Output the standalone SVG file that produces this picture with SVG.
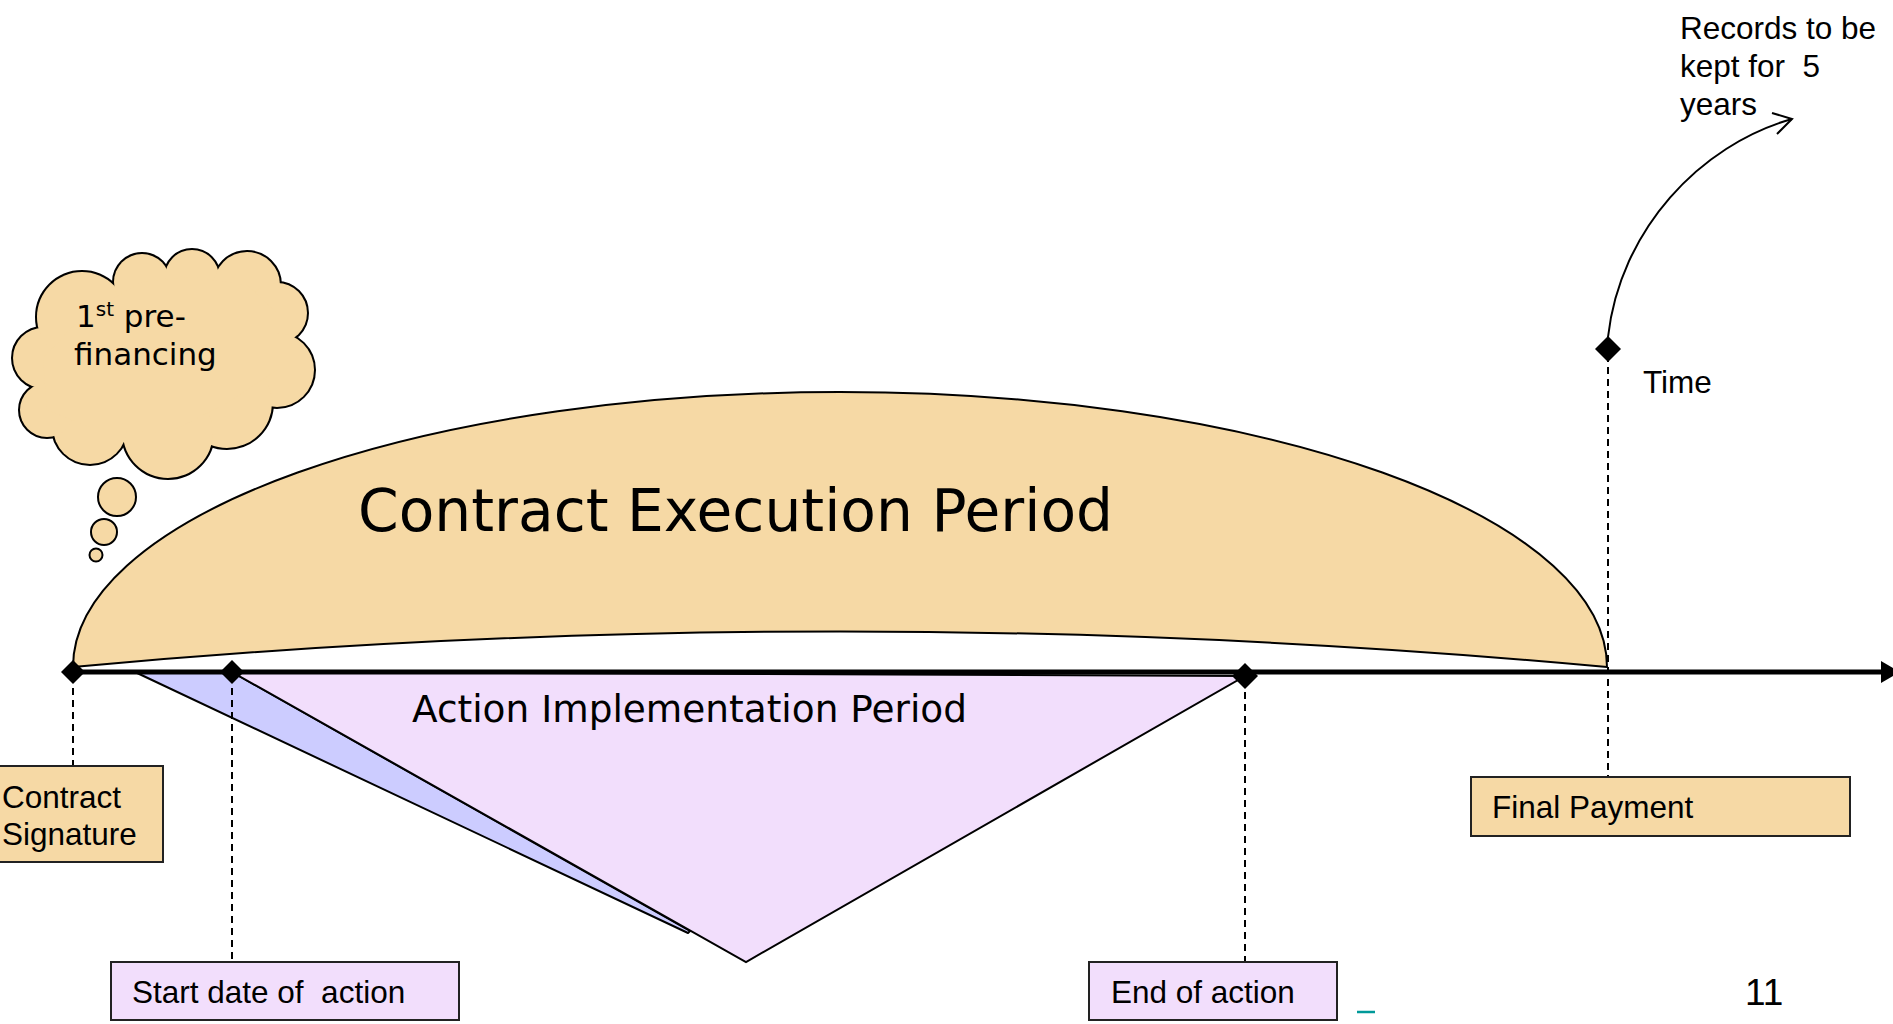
<svg xmlns="http://www.w3.org/2000/svg" xmlns:xlink="http://www.w3.org/1999/xlink" width="1893" height="1024" viewBox="0 0 1893 1024">
<style>
.tan{fill:#F6D9A5}
.lav{fill:#F2DEFC}
.box{stroke:#222;stroke-width:2}
.dash{stroke:#000;stroke-width:2;stroke-dasharray:7 5;fill:none}
.dia{fill:#000}
.ar{font-family:"Liberation Sans",Arial,sans-serif;font-size:31.5px;fill:#000}
.vd{font-family:"DejaVu Sans",Verdana,sans-serif;fill:#000}
</style>
<defs>
<g id="lobes">
<circle cx="43" cy="358" r="30"/>
<circle cx="82" cy="317" r="45"/>
<circle cx="142" cy="282" r="28"/>
<circle cx="192" cy="277" r="27"/>
<circle cx="247" cy="285" r="33"/>
<circle cx="277" cy="313" r="30"/>
<circle cx="277" cy="370" r="37"/>
<circle cx="227" cy="403" r="45"/>
<circle cx="168" cy="433" r="45"/>
<circle cx="90" cy="427" r="37"/>
<circle cx="47" cy="410" r="27"/>
</g>
</defs>
<rect x="0" y="0" width="1893" height="1024" fill="#fff"/>

<g id="contract-execution-period">
<path d="M73,667 A767,275 0 0 1 1607,667 Q840,596 73,667 Z" class="tan" stroke="#000" stroke-width="2"/>
<text class="vd" x="358" y="531" font-size="58" textLength="755" lengthAdjust="spacingAndGlyphs">Contract Execution Period</text>
</g>

<g id="action-implementation-period">
<polygon points="135,672 232,672 690,931 688,933" fill="#CCCCFF" stroke="#000" stroke-width="2" stroke-linejoin="round"/>
<polygon points="232,672 1245,676 746,962" class="lav" stroke="#000" stroke-width="2"/>
<text class="vd" x="412" y="722" font-size="37" textLength="555" lengthAdjust="spacingAndGlyphs">Action Implementation Period</text>
</g>

<g id="prefinancing-cloud">
<use xlink:href="#lobes" fill="#F6D9A5" stroke="#000" stroke-width="4"/>
<use xlink:href="#lobes" fill="#F6D9A5" stroke="none"/>
<polygon points="43,358 82,317 142,282 192,277 247,285 277,313 277,370 227,403 168,433 90,427 47,410" fill="#F6D9A5"/>
<circle cx="117" cy="497" r="19" class="tan" stroke="#000" stroke-width="2"/>
<circle cx="104" cy="532" r="13" class="tan" stroke="#000" stroke-width="2"/>
<circle cx="96" cy="555" r="6.5" class="tan" stroke="#000" stroke-width="2"/>
<text class="vd" font-size="31" x="76" y="327">1<tspan font-size="20" dy="-11">st</tspan><tspan dy="11"> pre-</tspan></text>
<text class="vd" font-size="31" x="74" y="365">financing</text>
</g>

<g id="connectors">
<line x1="73" y1="672" x2="1884" y2="672" stroke="#000" stroke-width="5"/>
<polygon points="1881,661 1900,672 1881,683" fill="#000"/>
<line class="dash" x1="73" y1="676" x2="73" y2="766"/>
<line class="dash" x1="232" y1="676" x2="232" y2="962"/>
<line class="dash" x1="1245" y1="680" x2="1245" y2="962"/>
<line class="dash" x1="1608" y1="355" x2="1608" y2="777"/>
<path d="M1608,337 C1620,230 1700,145 1792,119" fill="none" stroke="#000" stroke-width="2"/>
<polyline points="1772,113 1792,119 1777,134" fill="none" stroke="#000" stroke-width="2"/>
</g>

<g id="markers">
<polygon class="dia" points="73,660 85,672 73,684 61,672"/>
<polygon class="dia" points="232,660 244,672 232,684 220,672"/>
<polygon class="dia" points="1245,663 1258,676 1245,689 1232,676"/>
<polygon class="dia" points="1608,336 1621,349 1608,362 1595,349"/>
</g>

<g id="contract-signature">
<rect x="-2" y="766" width="165" height="96" class="tan box"/>
<text class="ar" x="2" y="808">Contract</text>
<text class="ar" x="2" y="845">Signature</text>
</g>

<g id="start-date">
<rect x="111" y="962" width="348" height="58" class="lav box"/>
<text class="ar" x="132" y="1003" xml:space="preserve">Start date of  action</text>
</g>

<g id="end-of-action">
<rect x="1089" y="962" width="248" height="58" class="lav box"/>
<text class="ar" x="1111" y="1003">End of action</text>
</g>

<g id="final-payment">
<rect x="1471" y="777" width="379" height="59" class="tan box"/>
<text class="ar" x="1492" y="818">Final Payment</text>
</g>

<g id="records">
<text class="ar" x="1680" y="39">Records to be</text>
<text class="ar" x="1680" y="77" xml:space="preserve">kept for  5</text>
<text class="ar" x="1680" y="115">years</text>
</g>

<g id="time-label">
<text class="ar" x="1643" y="393">Time</text>
</g>

<line x1="1357" y1="1012" x2="1375" y2="1012" stroke="#009999" stroke-width="2.5"/>
<text class="ar" x="1745" y="1005" style="font-size:37px">11</text>
</svg>
